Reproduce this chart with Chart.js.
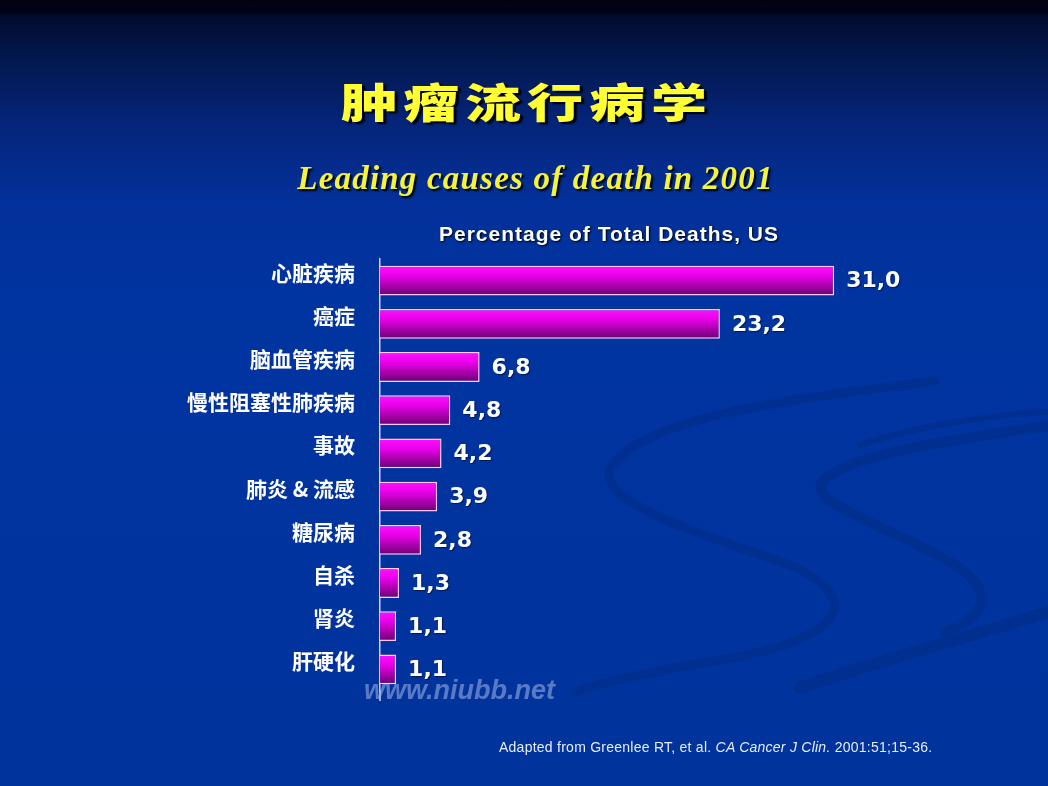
<!DOCTYPE html>
<html>
<head>
<meta charset="utf-8">
<script src="https://cdn.jsdelivr.net/npm/chart.js@4/dist/chart.umd.min.js"></script>
<style>
  html, body { margin:0; padding:0; }
  body { width:1048px; height:786px; overflow:hidden; position:relative;
    background: linear-gradient(to bottom, #01010f 0px, #02031a 13px, #020b2e 16px, #03184f 60px, #052478 120px, #03309a 200px, #0034a0 300px, #00339c 786px); }
  #bg { position:absolute; left:0; top:0; }
  #chart { position:absolute; left:0; top:0; }
  .t { position:absolute; white-space:nowrap; }
  #title { left:0; width:1048px; top:70px; text-align:center; font-family:'Noto Sans CJK SC', sans-serif; font-weight:900; font-size:56px; line-height:60px; color:#ffff33; letter-spacing:6px; padding-left:6px; box-sizing:border-box; text-shadow:3px 3px 2px #000000; transform:scaleY(0.74); }
  #subtitle { left:0; width:1071px; top:158px; text-align:center; font-family:'Liberation Serif', serif; font-weight:bold; font-style:italic; font-size:33px; line-height:40px; letter-spacing:1.2px; color:#f6f43a; text-shadow:2px 2px 2px #000000; }
  #ctitle { left:0; width:1218px; top:221px; text-align:center; font-family:'Liberation Sans', Arial, sans-serif; font-weight:bold; font-size:21px; line-height:26px; letter-spacing:1px; color:#ffffff; text-shadow:1px 1px 2px #000000; }
  #footer { left:499px; top:738px; font-family:'Liberation Sans', Arial, sans-serif; font-size:14px; line-height:18px; letter-spacing:0.25px; color:#e6ecff; }
  #wm { left:364px; top:675px; font-family:'Liberation Sans', Arial, sans-serif; font-weight:bold; font-style:italic; font-size:27px; line-height:30px; color:rgba(150,170,225,0.6); }
</style>
</head>
<body>
<svg id="bg" width="1048" height="786">
  <g fill="none" stroke="#002f8e" stroke-linecap="round" opacity="0.85">
    <path d="M 935 381 C 800 398, 650 415, 612 465 C 590 500, 690 530, 790 565 C 870 600, 840 640, 720 660 C 660 670, 610 680, 575 692" stroke-width="9"/>
    <path d="M 1048 426 C 950 440, 845 455, 822 482 C 808 505, 900 530, 960 568 C 995 595, 985 615, 945 632" stroke-width="10"/>
    <path d="M 1048 612 C 960 640, 880 660, 800 688" stroke-width="12"/>
    <path d="M 860 445 C 920 425, 990 415, 1048 412" stroke-width="6"/>
  </g>
</svg>
<canvas id="chart" width="1048" height="786"></canvas>
<div class="t" id="title">肿瘤流行病学</div>
<div class="t" id="subtitle">Leading causes of death in 2001</div>
<div class="t" id="ctitle">Percentage of Total Deaths, US</div>
<div class="t" id="wm">www.niubb.net</div>
<div class="t" id="footer">Adapted from Greenlee RT, et al. <i>CA Cancer J Clin.</i> 2001:51;15-36.</div>
<script>
const categories = ['心脏疾病', '癌症', '脑血管疾病', '慢性阻塞性肺疾病', '事故', '肺炎 & 流感', '糖尿病', '自杀', '肾炎', '肝硬化'];
const values = [31.0, 23.2, 6.8, 4.8, 4.2, 3.9, 2.8, 1.3, 1.1, 1.1];
const xMax = 40;

function fmt(v) { return v.toFixed(1).replace('.', ','); }

const valueLabelPlugin = {
  id: 'valueLabels',
  afterDatasetsDraw(chart) {
    const ctx = chart.ctx;
    const meta = chart.getDatasetMeta(0);
    ctx.save();
    ctx.font = 'bold 22px "DejaVu Sans", sans-serif';
    ctx.fillStyle = '#ffffff';
    ctx.textAlign = 'left';
    ctx.textBaseline = 'middle';
    ctx.shadowColor = 'rgba(0,0,0,0.5)';
    ctx.shadowOffsetX = 1; ctx.shadowOffsetY = 1; ctx.shadowBlur = 1;
    meta.data.forEach((bar, i) => {
      ctx.fillText(fmt(values[i]), bar.x + 12, bar.y + 1);
    });
    ctx.restore();
  }
};

const axisExtend = {
  id: 'axisExtend',
  afterDraw(chart) {
    const ctx = chart.ctx, a = chart.chartArea;
    ctx.save();
    ctx.strokeStyle = '#d8d0ff';
    ctx.lineWidth = 1.5;
    ctx.beginPath();
    ctx.moveTo(a.left, a.bottom);
    ctx.lineTo(a.left, a.bottom + 10);
    ctx.stroke();
    ctx.restore();
  }
};

function barGradient(context) {
  const chart = context.chart;
  const y = chart.scales.y;
  if (!chart.chartArea || !y) return '#d000d0';
  const yc = y.getPixelForValue(context.dataIndex);
  const h = (y.height / categories.length) * 0.69;
  const g = chart.ctx.createLinearGradient(0, yc - h / 2, 0, yc + h / 2);
  g.addColorStop(0, '#ff10ff');
  g.addColorStop(0.35, '#e800e8');
  g.addColorStop(1, '#6a0070');
  return g;
}

new Chart(document.getElementById('chart'), {
  type: 'bar',
  data: {
    labels: categories,
    datasets: [{
      data: values,
      backgroundColor: barGradient,
      borderColor: '#ffc8ff',
      borderWidth: 1.5,
      barPercentage: 0.69,
      categoryPercentage: 1.0
    }]
  },
  options: {
    indexAxis: 'y',
    responsive: false,
    animation: false,
    events: [],
    layout: { padding: { left: 0, top: 259, right: 82, bottom: 95 } },
    plugins: { legend: { display: false }, tooltip: { enabled: false }, title: { display: false } },
    scales: {
      x: { display: false, min: 0, max: xMax },
      y: {
        afterFit(scale) { scale.width = 380; },
        grid: { display: false, drawTicks: false, tickLength: 0 },
        border: { display: true, color: '#d8d0ff', width: 1.5 },
        ticks: {
          color: '#ffffff',
          padding: 25,
          labelOffset: -8,
          font: { family: "'Noto Sans CJK SC', sans-serif", size: 21, weight: 'bold' }
        }
      }
    }
  },
  plugins: [valueLabelPlugin, axisExtend]
});
</script>
</body>
</html>
